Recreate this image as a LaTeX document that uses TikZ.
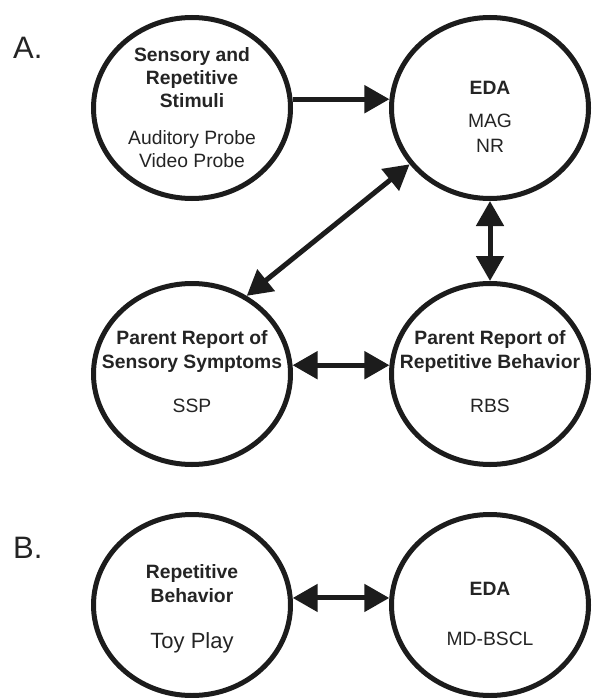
\documentclass[tikz,border=0pt]{standalone}
\usepackage{fontspec}
\setmainfont{Liberation Sans}
\usetikzlibrary{shapes.geometric,arrows.meta}
\definecolor{inkline}{RGB}{28,28,28}
\definecolor{inktext}{RGB}{36,36,36}
\tikzset{
  bubble/.style={ellipse,draw=inkline,line width=5pt,minimum width=197pt,minimum height=181pt,inner sep=0pt},
  conn/.style={draw=inkline,line width=5pt,-{Triangle[length=25pt,width=27pt]}},
  biconn/.style={draw=inkline,line width=5pt,{Triangle[length=25pt,width=27pt]}-{Triangle[length=25pt,width=27pt]}},
  ttl/.style={anchor=base,inner sep=0pt,text=inktext,font=\fontsize{19.3}{23}\selectfont\bfseries},
  sub/.style={anchor=base,inner sep=0pt,text=inktext,font=\fontsize{19.3}{23}\selectfont},
  big/.style={anchor=base,inner sep=0pt,text=inktext,font=\fontsize{22}{26}\selectfont},
  panel/.style={anchor=base west,inner sep=0pt,text=inktext,font=\fontsize{31}{36}\selectfont}
}
\begin{document}
\begin{tikzpicture}[x=1pt,y=-1pt]
\useasboundingbox (0,0) rectangle (592,698);
% panel labels
\node[panel] (labA) at (13,59) {A.};
\node[panel] (labB) at (13,558) {B.};
% bubbles
\node[bubble] (tl) at (192,108) {};
\node[bubble] (tr) at (490,108) {};
\node[bubble] (bl) at (192,374) {};
\node[bubble] (br) at (490,374) {};
\node[bubble] (bl2) at (192,605) {};
\node[bubble] (br2) at (490,605) {};
% texts
\node[ttl] (t1a) at (192,62) {Sensory and};
\node[ttl] (t1b) at (192,85) {Repetitive};
\node[ttl] (t1c) at (192,108) {Stimuli};
\node[sub] (t1d) at (192,144) {Auditory Probe};
\node[sub] (t1e) at (192,167) {Video Probe};
\node[ttl] (t2a) at (490,95) {EDA};
\node[sub] (t2b) at (490,128) {MAG};
\node[sub] (t2c) at (490,152) {NR};
\node[ttl] (t3a) at (192,344) {Parent Report of};
\node[ttl] (t3b) at (192,368) {Sensory Symptoms};
\node[sub] (t3c) at (192,412) {SSP};
\node[ttl] (t4a) at (490,344) {Parent Report of};
\node[ttl] (t4b) at (490,368) {Repetitive Behavior};
\node[sub] (t4c) at (490,412) {RBS};
\node[ttl] (t5a) at (192,578) {Repetitive};
\node[ttl] (t5b) at (192,602) {Behavior};
\node[big] (t5c) at (192,648) {Toy Play};
\node[ttl] (t6a) at (490,595) {EDA};
\node[sub] (t6b) at (490,645) {MD-BSCL};
% connectors
\draw[conn] (tl.5) -- (tr.175);
\draw[biconn] (bl.55) -- (tr.215);
\draw[biconn] (tr.south) -- (br.north);
\draw[biconn] (bl.5) -- (br.175);
\draw[biconn] (bl2.4) -- (br2.176);
\end{tikzpicture}
\end{document}
